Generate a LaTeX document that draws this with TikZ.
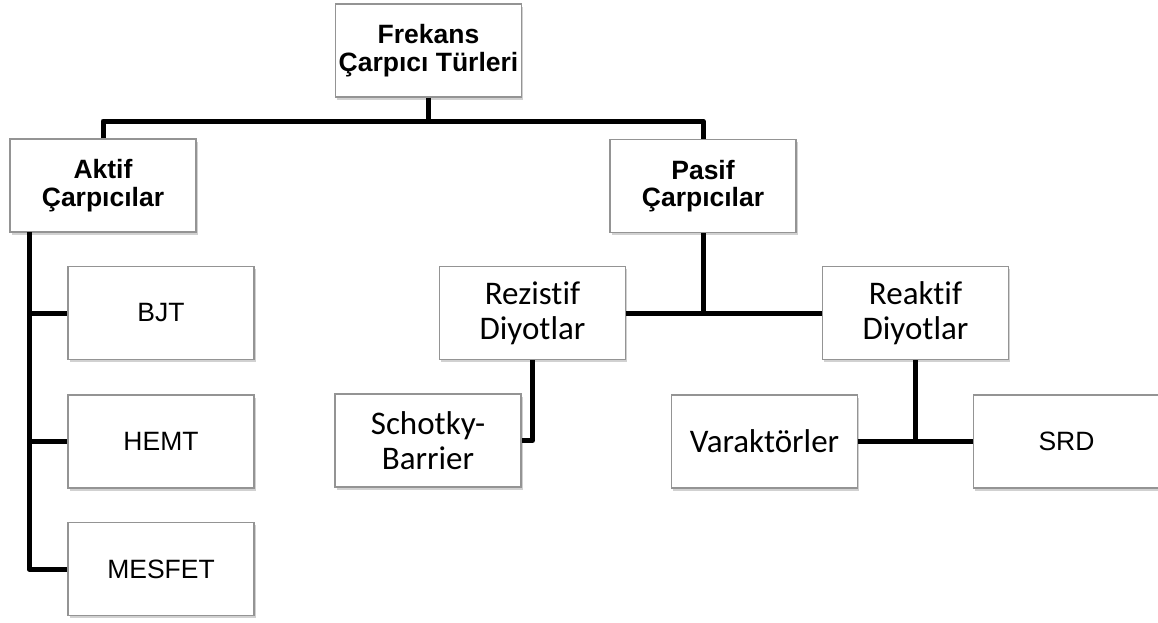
\documentclass[tikz,border=0pt]{standalone}
\usepackage{fontspec}
\setmainfont{Liberation Sans}
\newfontfamily\calib[Ligatures={NoCommon}]{Carlito}
\usetikzlibrary{shadows}
\begin{document}
\begin{tikzpicture}[x=1pt,y=-1pt,
  box/.style={draw=black!42, line width=1.1pt, fill=white, minimum width=186pt, minimum height=93pt,
    align=center, inner sep=2pt,
    drop shadow={shadow xshift=1.5pt, shadow yshift=-2.5pt, opacity=0.3, fill=black!60}},
  hdr/.style={box, font=\fontsize{26.5}{27.5}\selectfont\bfseries},
  arl/.style={box, font=\fontsize{26.5}{28}\selectfont},
  cal/.style={box, font=\calib\fontsize{33}{35}\selectfont},
  conn/.style={line width=5pt, line join=round, draw=black}]
\useasboundingbox (0,0) rectangle (1158,622);
\begin{scope}
\clip (0,0) rectangle (1158,622);
\node[hdr] (frek) at (428.5,50.5) {Frekans\\Çarpıcı Türleri};
\node[hdr] (aktif) at (103,185.5) {Aktif\\Çarpıcılar};
\node[hdr] (pasif) at (703,186) {Pasif\\Çarpıcılar};
\node[arl] (bjt) at (161,313) {BJT};
\node[arl] (hemt) at (161,441.5) {HEMT};
\node[arl] (mesfet) at (161,569) {MESFET};
\node[cal] (rez) at (532.5,313) {Rezistif\\Diyotlar};
\node[cal] (reak) at (915.5,313) {Reaktif\\Diyotlar};
\node[cal] (schot) at (428,440.5) {Schotky-\\Barrier};
\node[cal] (varak) at (764.5,441.5) {Varaktörler};
\node[arl] (srd) at (1066.5,441.5) {SRD};
\end{scope}
\coordinate (bus) at (428.5,121);
\coordinate (av) at (29,232);
\draw[conn] (frek.south) -- (bus);
\draw[conn] (aktif.north) |- (bus) -| (pasif.north);
\draw[conn] (av) |- (mesfet.west);
\draw[conn] (av |- bjt.west) -- (bjt.west);
\draw[conn] (av |- hemt.west) -- (hemt.west);
\draw[conn] (pasif.south) -- (pasif.south |- rez.east);
\draw[conn] (rez.east) -- (reak.west);
\draw[conn] (rez.south) |- (schot.east);
\draw[conn] (reak.south) -- (reak.south |- varak.east);
\draw[conn] (varak.east) -- (srd.west);
\end{tikzpicture}
\end{document}
